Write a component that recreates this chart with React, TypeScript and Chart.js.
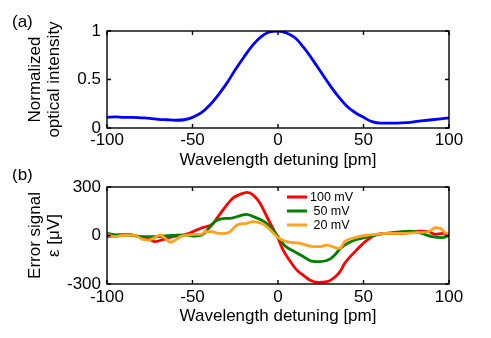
import React, { useEffect, useRef } from 'react';
import { Chart, registerables } from 'chart.js';

Chart.register(...registerables);

const FONT = "Arial, 'Liberation Sans', sans-serif";

// ---------- data ----------
const xTickValues = [-100, -50, 0, 50, 100];
const intensityTickValues = [0, 0.5, 1];
const errorTickValues = [-300, 0, 300];

const xTitle = 'Wavelength detuning [pm]';
const intensityTitle = ['Normalized', 'optical intensity'];
const errorTitle = ['Error signal', 'ε [μV]'];
const panelLabels = ['(a)', '(b)'];

const intensityX = [
  -100, -95, -90, -85, -80, -75, -70, -65, -60, -55, -50, -45, -40, -35, -30, -25, -20, -15, -10, -5,
  0, 5, 10, 15, 20, 25, 30, 35, 40, 45, 50, 55, 60, 65, 70, 75, 80, 85, 90, 95, 100,
];
const intensityY = [
  0.11, 0.115, 0.11, 0.11, 0.105, 0.1, 0.09, 0.085, 0.08, 0.085, 0.11, 0.155, 0.235, 0.34, 0.46, 0.6, 0.73, 0.85, 0.94, 0.99,
  1.0, 0.98, 0.93, 0.83, 0.71, 0.58, 0.45, 0.33, 0.23, 0.16, 0.11, 0.065, 0.05, 0.05, 0.05, 0.055, 0.065, 0.075, 0.085, 0.095, 0.105,
];

const seriesLabels = ['100 mV', ' 50 mV', ' 20 mV'];

const redX = [
  -100, -93, -87.5, -81.5, -75.5, -72, -67, -62, -56, -50.5, -44.5, -38.5, -34, -30, -26, -22, -18, -14.5, -10.5, -6.5,
  -2.5, 0, 3, 7, 11, 15, 18.5, 23.5, 28.5, 33.5, 36.5, 39, 45, 51, 57, 63, 72.5, 82.5, 88, 92, 96, 100,
];
const redY = [
  -7, 3, 7, -7, -22, -38, -24, -8, 0, 20, 48, 69, 132, 188, 234, 255, 267, 250, 199, 116,
  34, -17, -90, -158, -214, -248, -275, -290, -286, -255, -220, -172, -100, -38, 3, 13, 13, 27, 24, 7, 13, 7,
];

const greenX = [
  -100, -93, -87.5, -79.5, -72, -62, -54, -48.5, -44.5, -40.5, -36.5, -31, -28, -22, -18.5, -14.5, -8.5, -4.5,
  0, 4, 9, 15, 19.5, 24.5, 30.5, 33.5, 36, 39, 45, 51, 57, 63, 72.5, 78, 84, 90, 96, 100,
];
const greenY = [
  13, 3, 3, -7, -7, 0, 3, -3, 3, 44, 89, 106, 106, 123, 131, 117, 89, 54,
  -7, -63, -96, -131, -158, -162, -145, -118, -85, -59, -28, -13, 3, 13, 24, 27, 13, -7, -13, 0,
];

const orangeX = [
  -100, -95.5, -91.5, -87.5, -83.5, -79.5, -75.5, -72, -69, -66, -63, -60, -57, -53, -48.5, -44.5, -42.5, -38.5, -35, -31,
  -28, -24, -18.5, -14.5, -8.5, -4.5, 0, 5, 13, 18.5, 24.5, 28.5, 33.5, 36, 39, 45, 51, 57, 63, 72.5, 82.5, 88, 92, 95, 98, 100,
];
const orangeY = [
  7, -7, 0, 3, 0, -22, -28, -13, 3, -18, -42, -28, -7, 3, 7, 9, 24, 24, 13, 13,
  24, 65, 75, 86, 69, 34, -13, -38, -49, -65, -69, -59, -75, -80, -38, -13, 0, 7, 13, 13, 19, 24, 48, 44, 13, 3,
];

// ---------- styles ----------
const BLUE = '#0000ff';
const RED = '#ff0000';
const GREEN = '#008000';
const ORANGE = '#ffa21f';

const toPoints = (xs: number[], ys: number[]) => xs.map((x, i) => ({ x, y: ys[i] }));

const framePlugin = {
  id: 'frame',
  afterDatasetsDraw(chart: any, _args: any, opts: any) {
    const { ctx, chartArea, scales } = chart;
    const { left, right, top, bottom } = chartArea;
    const xs = scales.x;
    const ys = scales.y;
    ctx.save();
    ctx.strokeStyle = '#000';
    ctx.lineWidth = 1.4;
    ctx.strokeRect(left, top, right - left, bottom - top);
    const len = 4;
    ctx.beginPath();
    xs.ticks.forEach((t: any) => {
      const px = xs.getPixelForValue(t.value);
      ctx.moveTo(px, bottom);
      ctx.lineTo(px, bottom - len);
      ctx.moveTo(px, top);
      ctx.lineTo(px, top + len);
    });
    ys.ticks.forEach((t: any) => {
      const py = ys.getPixelForValue(t.value);
      ctx.moveTo(left, py);
      ctx.lineTo(left + len, py);
      ctx.moveTo(right, py);
      ctx.lineTo(right - len, py);
    });
    ctx.stroke();
    if (opts && opts.label) {
      ctx.fillStyle = '#000';
      ctx.font = `17px ${FONT}`;
      ctx.textAlign = 'left';
      ctx.textBaseline = 'middle';
      ctx.fillText(opts.label, 12, opts.labelY);
    }
    ctx.restore();
  },
};

const legendPlugin = {
  id: 'boxLegend',
  afterDatasetsDraw(chart: any, _args: any, opts: any) {
    if (!opts || !opts.show) return;
    const { ctx } = chart;
    ctx.save();
    ctx.font = `12.5px ${FONT}`;
    ctx.textAlign = 'left';
    ctx.textBaseline = 'middle';
    const ds = chart.data.datasets;
    opts.rows.forEach((rowY: number, i: number) => {
      const d = ds[i];
      ctx.strokeStyle = d.borderColor;
      ctx.lineWidth = 3;
      ctx.beginPath();
      ctx.moveTo(287, rowY);
      ctx.lineTo(307, rowY);
      ctx.stroke();
      ctx.fillStyle = '#000';
      ctx.fillText(d.label, 310, rowY + 0.5);
    });
    ctx.restore();
  },
};

function xScale(height: number, tickPad: number, titlePadBottom: number) {
  return {
    type: 'linear',
    min: -100,
    max: 100,
    afterBuildTicks: (s: any) => {
      s.ticks = xTickValues.map((v) => ({ value: v }));
    },
    afterFit: (s: any) => {
      s.height = height;
    },
    grid: { display: false, drawTicks: false },
    border: { display: false },
    ticks: {
      color: '#000',
      font: { family: FONT, size: 17, lineHeight: 1.2 },
      padding: tickPad,
      maxRotation: 0,
      autoSkip: false,
      callback: (v: any) => String(v),
    },
    title: {
      display: true,
      text: xTitle,
      color: '#000',
      font: { family: FONT, size: 17, lineHeight: 1 },
      padding: { top: 0, bottom: titlePadBottom },
    },
  };
}

function yScale(min: number, max: number, tickValues: number[], title: string[]) {
  return {
    type: 'linear',
    min,
    max,
    afterBuildTicks: (s: any) => {
      s.ticks = tickValues.map((v) => ({ value: v }));
    },
    afterFit: (s: any) => {
      s.width = 107;
    },
    grid: { display: false, drawTicks: false },
    border: { display: false },
    ticks: {
      color: '#000',
      font: { family: FONT, size: 17, lineHeight: 1.2 },
      padding: 6,
      autoSkip: false,
      callback: (v: any) => String(v),
    },
    title: {
      display: true,
      text: title,
      color: '#000',
      font: { family: FONT, size: 17, lineHeight: 1.1 },
      padding: { top: 26, bottom: 0 },
    },
  };
}

function topConfig(): any {
  return {
    type: 'line',
    data: {
      datasets: [
        {
          label: 'intensity',
          data: toPoints(intensityX, intensityY),
          borderColor: BLUE,
          borderWidth: 2.8,
          pointRadius: 0,
          cubicInterpolationMode: 'monotone',
          fill: false,
        },
      ],
    },
    options: {
      animation: false,
      responsive: false,
      events: [],
      layout: { padding: { top: 31, right: 42, left: 0, bottom: 0 } },
      scales: {
        x: xScale(41, 2, 0.5),
        y: yScale(0, 1, intensityTickValues, intensityTitle),
      },
      plugins: {
        legend: { display: false },
        tooltip: { enabled: false },
        frame: { label: panelLabels[0], labelY: 22 },
      },
    },
    plugins: [framePlugin],
  };
}

function bottomConfig(): any {
  const common = { borderWidth: 2.8, pointRadius: 0, cubicInterpolationMode: 'monotone', fill: false };
  return {
    type: 'line',
    data: {
      datasets: [
        { label: seriesLabels[0], data: toPoints(redX, redY), borderColor: RED, order: 3, ...common },
        { label: seriesLabels[1], data: toPoints(greenX, greenY), borderColor: GREEN, order: 2, ...common },
        { label: seriesLabels[2], data: toPoints(orangeX, orangeY), borderColor: ORANGE, order: 1, ...common },
      ],
    },
    options: {
      animation: false,
      responsive: false,
      events: [],
      layout: { padding: { top: 18, right: 42, left: 0, bottom: 0 } },
      scales: {
        x: xScale(54, 3, 13.5),
        y: yScale(-300, 300, errorTickValues, errorTitle),
      },
      plugins: {
        legend: { display: false },
        tooltip: { enabled: false },
        frame: { label: panelLabels[1], labelY: 6 },
        boxLegend: { show: true, rows: [28, 42, 56] },
      },
    },
    plugins: [framePlugin, legendPlugin],
  };
}

function Panel({ top, height, make }: { top: number; height: number; make: () => any }) {
  const ref = useRef<HTMLCanvasElement>(null);
  useEffect(() => {
    const chart = new Chart(ref.current as HTMLCanvasElement, make());
    return () => chart.destroy();
  }, []);
  return (
    <canvas
      ref={ref}
      width={491}
      height={height}
      style={{ position: 'absolute', left: 0, top, width: 491, height, display: 'block' }}
    />
  );
}

export default function App() {
  return (
    <div style={{ position: 'absolute', left: 0, top: 0, width: 491, height: 338, background: '#fff' }}>
      <Panel top={0} height={169} make={topConfig} />
      <Panel top={169} height={169} make={bottomConfig} />
    </div>
  );
}
